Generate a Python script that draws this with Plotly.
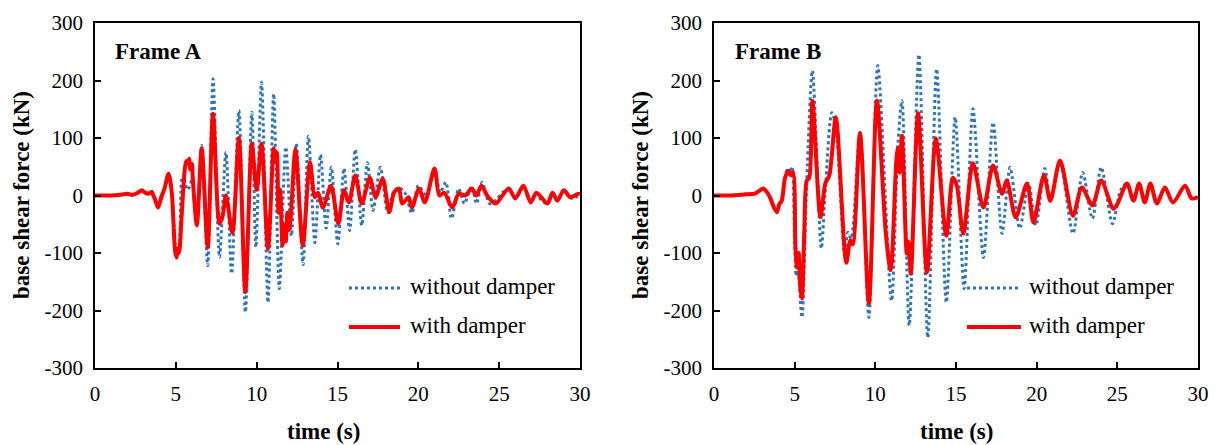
import plotly.graph_objects as go

# ---------------- data ----------------
time_a_without = [0, 1.0, 1.5, 2.0, 2.3, 2.6, 2.9, 3.1, 3.3, 3.5, 3.7, 3.9, 4.1, 4.3, 4.55, 4.75,
                  5.05, 5.2, 5.4, 5.55, 5.7, 5.85, 6.0, 6.3, 6.6, 6.97, 7.3, 7.7, 8.1, 8.45, 8.9,
                  9.3, 9.7, 9.95, 10.3, 10.7, 11.05, 11.4, 11.8, 12.15, 12.45, 12.87, 13.2, 13.6,
                  13.95, 14.3, 14.62, 15.02, 15.4, 15.75, 16.1, 16.5, 16.85, 17.2, 17.65, 18.1,
                  18.45, 18.8, 19.2, 19.6, 20.0, 20.5, 21.0, 21.35, 21.7, 22.05, 22.5, 22.85,
                  23.3, 23.6, 23.95, 24.4, 24.8, 25.2, 25.6, 26.0, 26.5, 26.95, 27.3, 27.6,
                  28.0, 28.3, 28.6, 29.0, 29.5, 30.0]
force_a_without = [0, 0, 1, 3, 1, 4, 9, 5, 3, 8, -5, -20, -3, 12, 37, 5,
                   -106, -95, 30, 25, 10, 15, 28, -48, 87, -122, 203, -107, 75, -136, 148,
                   -203, 145, -90, 197, -186, 177, -162, 84, -70, 90, -120, 103, -82,
                   71, -57, 49, -84, 47, -61, 80, -52, 57, -26, 49, -29,
                   5, 14, 3, -31, 17, 0, 47, 5, 23, -40, 12, -14,
                   16, -14, 23, -14, -8, 5, 12, -5, 14, -10, 5, -8,
                   -14, 5, -9, 9, -5, 2]

time_a_with = [0, 1.0, 1.5, 2.0, 2.3, 2.6, 2.9, 3.1, 3.3, 3.5, 3.7, 3.9, 4.1, 4.3, 4.55, 4.75,
               4.95, 5.05, 5.12, 5.2, 5.35, 5.55, 5.65, 5.75, 5.82, 5.9, 6.0, 6.05, 6.3, 6.6,
               6.97, 7.3, 7.7, 7.9, 8.1, 8.5, 8.9, 9.3, 9.7, 10.0, 10.3, 10.7, 11.05, 11.15,
               11.25, 11.35, 11.45, 11.6, 11.7, 11.8, 11.9, 12.0, 12.1, 12.4, 12.85, 13.3,
               13.6, 13.8, 14.1, 14.6, 15.05, 15.4, 15.7, 16.1, 16.5, 17.0, 17.35, 17.8,
               18.2, 18.5, 18.8, 19.0, 19.4, 19.6, 20.05, 20.4, 21.0, 21.3, 21.6, 22.1,
               22.5, 22.9, 23.3, 23.6, 23.9, 24.3, 24.8, 25.2, 25.6, 26.0, 26.5, 26.95,
               27.3, 27.6, 28.0, 28.3, 28.6, 29.0, 29.4, 29.9, 30.0]
force_a_with = [0, 0, 1, 3, 1, 4, 9, 5, 3, 6, -6, -21, -3, 12, 38, 5,
                -95, -108, -92, -100, -40, 45, 60, 55, 64, 45, 55, 30, -52, 82,
                -90, 142, -49, -35, 0, -65, 100, -168, 90, 10, 90, -93, 82, 60,
                75, -30, 10, -87, -50, -80, -30, -60, -40, 80, -87, 58,
                -3, 5, -21, 17, -49, 9, -12, 35, -14, 31, -3, 29,
                -29, 5, 12, -14, -3, -21, 12, -12, 47, 0, 5, -21,
                3, 0, 12, 0, 17, -2, -14, 0, 12, -5, 17, -12,
                5, -3, -14, 5, -9, 9, -3, 3, 2]

time_b_without = [0, 1.0, 2.0, 2.5, 2.8, 3.05, 3.3, 3.5, 3.7, 3.9, 4.05, 4.2, 4.4, 4.6, 4.75,
                  4.85, 5.0, 5.1, 5.2, 5.45, 5.75, 6.1, 6.65, 6.9, 7.3, 7.55, 8.1, 8.3, 8.5,
                  9.05, 9.6, 10.15, 11.0, 11.4, 11.65, 12.1, 12.7, 13.25, 13.8, 14.4, 14.95,
                  15.5, 16.05, 16.7, 17.3, 17.85, 18.35, 18.95, 19.5, 19.95, 20.5, 20.85,
                  21.45, 22.25, 22.85, 23.45, 24.0, 24.7, 25.2, 25.6, 26.0, 26.35, 26.7,
                  27.05, 27.45, 27.95, 28.45, 29.2, 29.6, 30.0]
force_b_without = [0, 0, 2, 3, 8, 12, 5, -5, -20, -29, -15, -9, 30, 48, 40,
                   50, -80, -140, -130, -212, 26, 217, -92, 10, 144, 120, -100, -64, -75,
                   110, -212, 226, -183, 90, 165, -226, 245, -247, 220, -186, 136,
                   -162, 151, -108, 127, -66, 49, -57, 21, -52, 47, -5,
                   58, -66, 40, -40, 49, -49, 9, 21, -9, 21, -12,
                   21, -14, 14, -12, 17, -5, -3]

time_b_with = [0, 1.0, 2.0, 2.5, 2.8, 3.05, 3.3, 3.5, 3.7, 3.9, 4.05, 4.2, 4.4, 4.6, 4.75,
               4.9, 5.05, 5.15, 5.25, 5.35, 5.45, 5.6, 5.75, 5.9, 6.1, 6.6, 6.9, 7.15, 7.55,
               8.2, 8.45, 8.6, 9.05, 9.6, 10.1, 10.65, 10.95, 11.3, 11.4, 11.5, 11.65, 11.95,
               12.05, 12.2, 12.65, 13.2, 13.75, 14.4, 14.8, 15.05, 15.45, 16.05, 16.7, 17.3,
               17.85, 18.15, 18.7, 19.4, 19.8, 20.45, 20.85, 21.45, 22.25, 22.8, 23.45,
               24.0, 24.75, 25.0, 25.6, 26.0, 26.35, 26.7, 27.05, 27.45, 27.95, 28.45,
               29.2, 29.6, 30.0]
force_b_with = [0, 0, 2, 3, 8, 12, 5, -5, -20, -29, -15, -9, 30, 43, 35,
                40, -90, -125, -100, -160, -179, -60, 26, 30, 165, -38, 21, 35, 136,
                -117, -78, -85, 108, -188, 165, -66, -130, 60, 83, 40, 104, -101,
                -80, -136, 143, -134, 99, -70, 31, 17, -66, 56, -21, 52,
                3, 26, -38, 21, -47, 35, -9, 61, -35, 14, -17,
                26, -23, -15, 21, -9, 21, -12, 21, -14, 14, -12,
                17, -5, -3]

x_ticks = [0, 5, 10, 15, 20, 25, 30]
y_ticks = [-300, -200, -100, 0, 100, 200, 300]
y_tick_labels = ["-300", "-200", "-100", "0", "100", "200", "300"]
panel_titles = ["Frame A", "Frame B"]
series_names = ["without damper", "with damper"]
x_title = "time (s)"
y_title = "base shear force (kN)"

# ---------------- figure ----------------
W, H = 1216, 445
BLUE = "#2E75B6"
RED = "#FF0000"
FONT = "Times New Roman, Liberation Serif, DejaVu Serif, serif"


def px(x):
    return x / W


def py(y):
    return 1 - y / H


panels = [
    dict(x0=95, x1=580, xa="x", ya="y", data=(time_a_without, force_a_without, time_a_with, force_a_with),
         leg_x0=349, leg_x1=400, leg_tx=408, ytitle_x=22, xtitle_x=323, frame_x=113),
    dict(x0=714, x1=1198, xa="x2", ya="y2", data=(time_b_without, force_b_without, time_b_with, force_b_with),
         leg_x0=967, leg_x1=1021, leg_tx=1027, ytitle_x=641, xtitle_x=956, frame_x=733),
]
plot_top, plot_bottom = 23, 368

fig = go.Figure()
shapes = []
annotations = []
for i, p in enumerate(panels):
    tw, fw, tv, fv = p["data"]
    fig.add_trace(go.Scatter(x=tw, y=fw, mode="lines", name=series_names[0], xaxis=p["xa"], yaxis=p["ya"],
                             line=dict(color=BLUE, width=3, dash="dot", shape="spline", smoothing=0.8),
                             showlegend=False))
    fig.add_trace(go.Scatter(x=tv, y=fv, mode="lines", name=series_names[1], xaxis=p["xa"], yaxis=p["ya"],
                             line=dict(color=RED, width=4, shape="spline", smoothing=0.8),
                             showlegend=False))
    # legend samples
    shapes.append(dict(type="line", xref="paper", yref="paper", x0=px(p["leg_x0"]), x1=px(p["leg_x1"]),
                       y0=py(288), y1=py(288), line=dict(color=BLUE, width=3, dash="dot")))
    shapes.append(dict(type="line", xref="paper", yref="paper", x0=px(p["leg_x0"]), x1=px(p["leg_x1"]),
                       y0=py(327), y1=py(327), line=dict(color=RED, width=4)))
    for name, yy in zip(series_names, [288, 327]):
        annotations.append(dict(text=name, xref="paper", yref="paper", x=px(p["leg_tx"]), y=py(yy - 2),
                                xanchor="left", yanchor="middle", showarrow=False,
                                font=dict(family=FONT, size=23, color="black")))
    annotations.append(dict(text="<b>%s</b>" % panel_titles[i], xref="paper", yref="paper",
                            x=px(p["frame_x"]), y=py(51), xanchor="left", yanchor="middle", showarrow=False,
                            font=dict(family=FONT, size=23, color="black")))
    annotations.append(dict(text="<b>%s</b>" % y_title, xref="paper", yref="paper", x=px(p["ytitle_x"]),
                            y=py(195), xanchor="center", yanchor="middle", textangle=-90, showarrow=False,
                            font=dict(family=FONT, size=23, color="black")))
    annotations.append(dict(text="<b>%s</b>" % x_title, xref="paper", yref="paper", x=px(p["xtitle_x"]),
                            y=py(431), xanchor="center", yanchor="middle", showarrow=False,
                            font=dict(family=FONT, size=23, color="black")))

axis_common = dict(showgrid=False, zeroline=False, showline=True, linecolor="black", linewidth=1.6,
                   mirror=True, ticks="inside", ticklen=6, tickwidth=1.5, tickcolor="black",
                   tickfont=dict(family=FONT, size=21, color="black"), automargin=False)

layout = dict(width=W, height=H, margin=dict(l=0, r=0, t=0, b=0), paper_bgcolor="white",
              plot_bgcolor="white", shapes=shapes, annotations=annotations, showlegend=False,
              font=dict(family=FONT, color="black"))
for i, p in enumerate(panels):
    sx = "" if i == 0 else "2"
    layout["xaxis" + sx] = dict(axis_common, domain=[px(p["x0"]), px(p["x1"])], range=[0, 30],
                                tickvals=x_ticks, anchor="y" + sx, ticklabelstandoff=6)
    layout["yaxis" + sx] = dict(axis_common, domain=[py(plot_bottom), py(plot_top)], range=[-300, 300],
                                tickvals=y_ticks, ticktext=y_tick_labels, anchor="x" + sx,
                                ticklabelstandoff=6)

fig.update_layout(**layout)
fig.write_html("out.html")
